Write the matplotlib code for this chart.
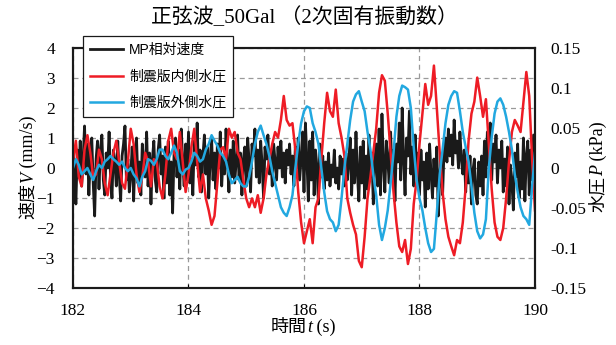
import matplotlib
matplotlib.use("Agg")
import matplotlib.pyplot as plt
import numpy as np

# MP相対速度 (mm/s), sampled every 0.025 s from 182 s
mp_vel = [
    0.5, 0.1, -1.2, 0.6, -0.3, 0.9, -0.6, 0.3, 1.4, -0.2, 0.8, -0.9, 0.4, 1.0, -0.5, -1.6, 0.3, 0.9, -0.7, 0.6,
    1.1, -0.4, -0.9, 0.5, 0.0, 1.2, -0.3, -1.0, 0.6, 0.2, -0.6, 0.9, -0.2, -1.1, 0.4, 0.8, 1.4, -0.4, 0.3, -0.8,
    -0.2, 0.7, -1.1, 0.4, 1.0, -0.5, 0.2, -0.9, 0.8, 0.1, -0.3, 1.2, -0.6, 0.5, -1.2, 0.3, 0.9, -0.4, -0.8, 0.6,
    1.1, -0.2, 0.4, -1.0, 0.7, -0.5, 0.9, -0.9, 0.2, -1.5, 0.5, 1.0, -0.3, 0.6, -0.7, 1.3, 0.2, -0.6, 0.8, -0.4,
    1.2, -0.5, 0.3, -0.9, 0.9, 0.1, 1.5, -0.3, 0.6, -0.8, 0.4, 1.1, -0.2, 0.7, -1.0, 0.3, 1.0, -0.4, 0.5, -0.7,
    0.8, 0.0, 1.2, -0.6, 0.4, -0.2, 1.3, 0.2, -0.8, 0.6, -0.3, 0.9, -0.5, 0.2, 1.1, -0.4, 0.5, -0.9, 0.3, 0.7,
    -0.6, 1.0, 0.2, -0.8, 0.8, 0.4, 1.3, -0.3, 0.6, -0.5, 0.9, 0.1, -1.0, 0.7, 0.3, 1.1, -0.2, 0.5, -0.6, 0.8,
    0.2, -0.4, 0.7, 0.0, 0.9, -0.3, 0.5, -0.5, 0.6, 0.1, 0.8, -0.2, 0.4, -0.6, 0.7, 0.0, 1.0, -0.4, 0.3, 1.2,
    -0.8, 1.5, 0.3, -1.1, 0.9, -0.4, 1.2, -0.9, 0.6, 0.0, -1.2, 0.8, -0.3, 0.4, -0.7, 0.2, -0.4, 0.5, -0.6, 0.1,
    -0.3, 0.6, -0.5, 0.0, -0.7, 0.4, -0.2, 0.3, -0.6, 0.5, -0.4, 0.2, 1.0, -0.9, 0.6, -0.5, 1.2, -0.2, -1.1, 0.7,
    -0.5, 0.9, -1.0, 0.4, -0.7, 1.1, -0.3, 0.5, -1.2, 0.2, 0.8, -0.6, 1.3, -0.9, 1.8, 0.1, -0.8, 0.9, 0.3, -0.5,
    1.2, -0.2, 0.6, -1.1, 0.8, 0.2, 1.5, -0.4, 2.0, 0.3, -0.9, 1.0, 0.4, 1.9, -0.2, 0.7, -0.6, 1.1, -0.1, 0.5,
    -0.9, 0.6, -0.4, 0.2, -1.3, 0.5, -0.7, 0.8, -0.2, -1.0, 0.3, -0.6, 0.7, -1.6, -0.3, 0.4, -0.9, 0.6, 1.0, 0.2,
    1.3, 0.4, 1.1, 0.1, 1.6, 0.5, 0.9, 0.0, 1.2, 0.3, -0.2, 0.6, -0.8, 0.2, -0.5, 0.4, -1.2, -0.1, 0.3, -0.9,
    -1.2, 0.2, -0.6, 0.4, -0.9, 0.9, -0.3, 1.2, 0.1, 1.5, -0.4, 0.8, 0.2, 1.1, -0.5, 0.6, 0.0, 0.9, -0.8, 0.3,
    -0.6, 0.7, -1.2, 0.1, -0.5, -1.4, 0.5, -0.3, 0.8, -1.0, 0.2, -0.7, 1.0, -1.1, 0.4, 0.9, -0.9, 0.6, -0.4, 1.1,
    -0.5,
]
vel_dt = 0.025

# 制震版内側水圧 (kPa), sampled every 0.05 s from 182 s
p_inner = [
    0.008, 0.034, -0.011, -0.023, 0.023, 0.041, 0.019, -0.011, -0.008, 0.023,
    0.011, -0.019, -0.034, -0.008, 0.019, 0.034, 0.008, -0.019, -0.026, 0.008,
    0.049, 0.030, -0.008, -0.030, -0.011, 0.019, 0.008, -0.023, 0.011, 0.008,
    -0.023, -0.038, -0.008, 0.034, 0.049, 0.019, 0.011, 0.045, 0.008, -0.030,
    -0.008, 0.026, 0.049, 0.008, -0.030, -0.008, -0.038, -0.053, -0.071, -0.060,
    -0.019, 0.023, 0.026, 0.011, 0.049, 0.038, 0.045, 0.019, 0.011, -0.015,
    -0.038, -0.049, -0.038, -0.049, -0.034, -0.056, -0.038, -0.008, 0.011, 0.030,
    0.045, 0.038, 0.060, 0.090, 0.060, 0.053, 0.056, 0.023, -0.030, -0.068,
    -0.094, -0.079, -0.064, -0.094, -0.049, -0.038, 0.011, 0.056, 0.094, 0.071,
    0.064, 0.098, 0.056, 0.038, 0.015, -0.038, -0.056, -0.071, -0.083, -0.116,
    -0.124, -0.086, -0.038, -0.011, 0.019, 0.049, 0.094, 0.116, 0.109, 0.068,
    0.019, -0.030, -0.068, -0.098, -0.105, -0.090, -0.120, -0.101, -0.045, -0.015,
    0.030, 0.068, 0.105, 0.079, 0.090, 0.128, 0.075, 0.019, -0.030, -0.064,
    -0.086, -0.098, -0.109, -0.090, -0.094, -0.068, -0.023, 0.034, 0.068, 0.083,
    0.113, 0.090, 0.064, 0.086, 0.030, -0.026, -0.068, -0.086, -0.090, -0.075,
    -0.038, 0.008, 0.045, 0.060, 0.053, 0.045, 0.083, 0.120, 0.090, 0.011,
    -0.053,
]

# 制震版外側水圧 (kPa), sampled every 0.05 s from 182 s
p_outer = [
    0.000, 0.011, 0.004, -0.008, -0.004, 0.000, -0.008, -0.015, -0.004, 0.004,
    0.000, 0.008, 0.011, 0.015, 0.011, 0.008, 0.004, 0.008, 0.000, -0.004,
    0.000, -0.008, -0.013, -0.023, -0.011, -0.004, 0.011, 0.009, 0.004, 0.011,
    0.023, 0.023, 0.015, 0.011, 0.019, 0.028, 0.019, -0.004, -0.008, -0.002,
    0.000, 0.008, 0.019, 0.015, 0.008, 0.011, 0.023, 0.030, 0.041, 0.034,
    0.028, 0.019, 0.015, 0.008, -0.008, -0.019, -0.015, -0.011, -0.019, -0.023,
    -0.023, -0.011, 0.008, 0.030, 0.045, 0.053, 0.041, 0.030, 0.015, -0.004,
    -0.019, -0.034, -0.049, -0.056, -0.060, -0.049, -0.034, 0.000, 0.030, 0.056,
    0.071, 0.077, 0.075, 0.056, 0.045, 0.030, 0.000, -0.030, -0.054, -0.064,
    -0.068, -0.079, -0.071, -0.038, 0.000, 0.030, 0.060, 0.083, 0.092, 0.096,
    0.083, 0.071, 0.045, 0.023, -0.008, -0.034, -0.071, -0.090, -0.075, -0.053,
    -0.019, 0.019, 0.064, 0.090, 0.103, 0.101, 0.098, 0.075, 0.026, -0.015,
    -0.038, -0.053, -0.075, -0.094, -0.105, -0.101, -0.056, -0.008, 0.023, 0.056,
    0.079, 0.090, 0.096, 0.094, 0.071, 0.045, 0.026, 0.008, -0.023, -0.056,
    -0.079, -0.088, -0.083, -0.064, 0.000, 0.038, 0.068, 0.083, 0.087, 0.079,
    0.064, 0.045, 0.023, -0.008, -0.030, -0.049, -0.060, -0.064, -0.071, -0.023,
    0.019,
]
p_dt = 0.05
t0 = 182.0

x_ticks = [182, 184, 186, 188, 190]
v_ticks = [-4, -3, -2, -1, 0, 1, 2, 3, 4]
p_ticks = [-0.15, -0.1, -0.05, 0, 0.05, 0.1, 0.15]
p_tick_labels = ["-0.15", "-0.1", "-0.05", "0", "0.05", "0.1", "0.15"]

SERIF = ["Liberation Serif", "Noto Sans CJK JP"]
SANS = ["Liberation Sans", "Noto Sans CJK JP"]
plt.rcParams["font.family"] = SERIF

W, H = 616, 345


def label_pieces(fig, x_px, y_px, pieces, rotation=0, size=13):
    """Write a label made of pieces (text, italic) centred on (x_px, y_px) baseline."""
    r = fig.canvas.get_renderer()
    arts, widths = [], []
    for s, ital in pieces:
        t = fig.text(0, 0, s, fontsize=size, family=SERIF,
                     fontstyle="italic" if ital else "normal",
                     ha="left", va="baseline", rotation_mode="anchor")
        widths.append(t.get_window_extent(r).width)
        arts.append(t)
    pos = -sum(widths) / 2
    for t, w in zip(arts, widths):
        if rotation == 0:
            t.set_position(((x_px + pos) / W, 1 - y_px / H))
        else:
            t.set_rotation(90)
            t.set_position((x_px / W, 1 - (y_px - pos) / H))
        pos += w


t_vel = t0 + vel_dt * np.arange(len(mp_vel))
t_p = t0 + p_dt * np.arange(len(p_inner))

fig = plt.figure(figsize=(W / 100, H / 100), dpi=100)
ax = fig.add_axes([0.1185, 0.1652, 0.75, 0.6957])
ax2 = ax.twinx()

l1, = ax.plot(t_vel, mp_vel, color="#1a1a1a", lw=2.0, label="MP相対速度")
l2, = ax2.plot(t_p, p_inner, color="#ee1c25", lw=1.8, label="制震版内側水圧")
l3, = ax2.plot(t_p, p_outer, color="#22a8e0", lw=1.8, label="制震版外側水圧")

ax.set_xlim(182, 190)
ax.set_ylim(-4, 4)
ax2.set_ylim(-0.15, 0.15)
ax.set_xticks(x_ticks)
ax.set_yticks(v_ticks)
ax2.set_yticks(p_ticks)
ax2.set_yticklabels(p_tick_labels)

ax.grid(True, color="#9a9a9a", linestyle=(0, (4, 3)), linewidth=0.9)
ax.tick_params(axis="x", direction="in", length=3, pad=11, labelsize=12.5)
ax.tick_params(axis="y", direction="in", length=0, pad=13, labelsize=12.5)
ax2.tick_params(axis="y", direction="in", length=0, pad=11, labelsize=12.5)
for a in (ax, ax2):
    for s in a.spines.values():
        s.set_linewidth(1.5)
        s.set_color("#1a1a1a")

fig.text(0.495, 1 - 18 / H, "正弦波_50Gal （2次固有振動数）", fontsize=15,
         family=SERIF, ha="center", va="center")
label_pieces(fig, 303, 332, [("時間", False), ("t", True), (" (s)", False)])
label_pieces(fig, 33, 167, [("速度", False), ("V", True), (" (mm/s)", False)], rotation=90)
label_pieces(fig, 603, 167, [("水圧", False), ("P", True), (" (kPa)", False)], rotation=90)

leg = ax2.legend(handles=[l1, l2, l3], loc="upper left", bbox_to_anchor=(0.022, 1.05),
                 prop={"family": SANS, "size": 10}, frameon=True, fancybox=False,
                 edgecolor="#1a1a1a", framealpha=1, handlelength=2.4,
                 labelspacing=0.9, borderpad=0.5, handletextpad=0.4, borderaxespad=0)
leg.get_frame().set_linewidth(0.9)
leg.set_zorder(10)

fig.savefig("out.png", dpi=100)
